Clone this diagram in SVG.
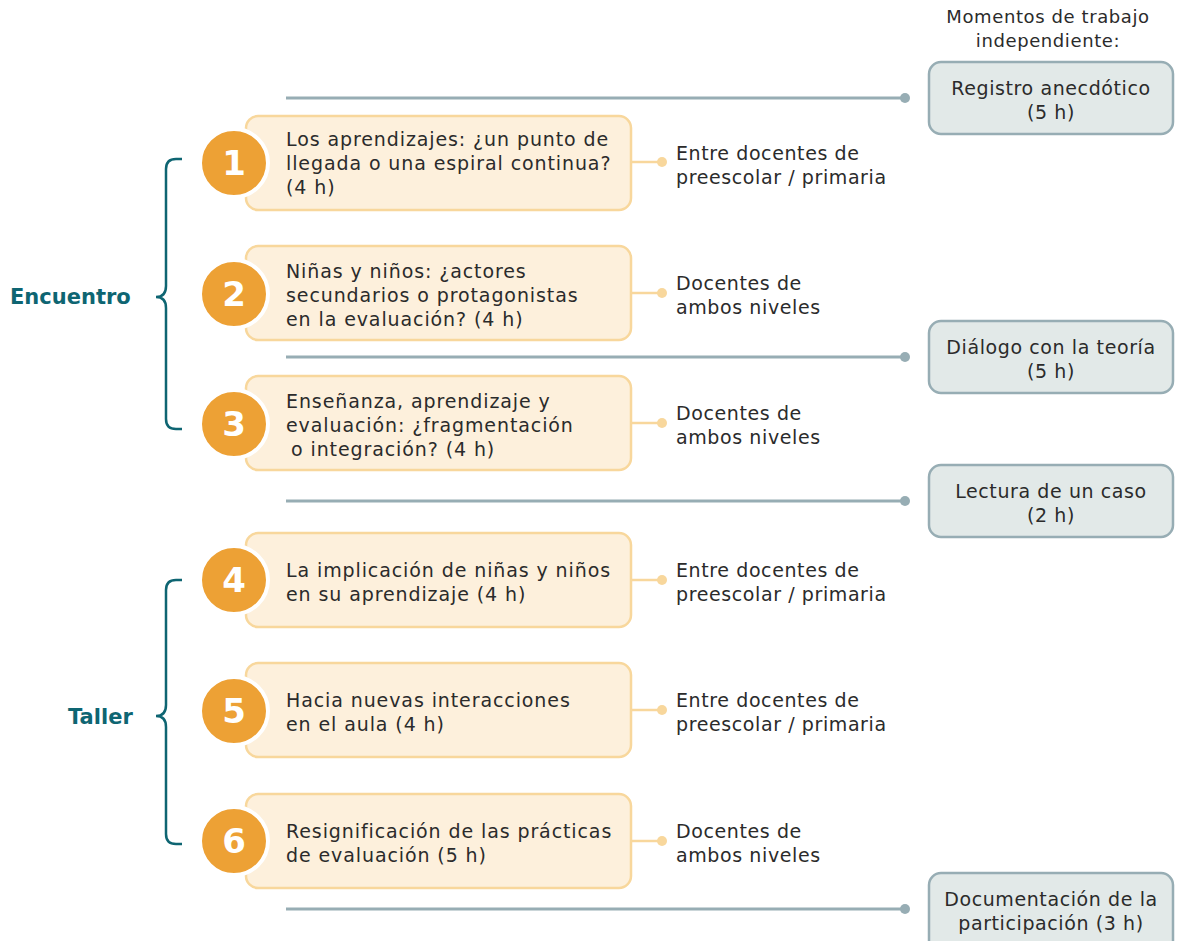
<svg xmlns="http://www.w3.org/2000/svg" width="1177" height="941" viewBox="0 0 1177 941">
  <style>
    text { font-family: "DejaVu Sans", "Noto Sans", "Liberation Sans", sans-serif; fill: #2b2b2b; font-size: 19px; letter-spacing: 0.6px; }
    .lbl { letter-spacing: 0.9px; }
    .session { fill: #fdf0dc; stroke: #f8d79c; stroke-width: 2.5; }
    .badge { fill: #eda135; stroke: #ffffff; stroke-width: 4; }
    .num { fill: #ffffff; font-size: 34px; font-weight: 700; text-anchor: middle; letter-spacing: 0; }
    .indep { fill: #e2e9e8; stroke: #97adb4; stroke-width: 2.5; }
    .mid { text-anchor: middle; }
    .hdr { font-size: 18px; }
    .gline { stroke: #97adb4; stroke-width: 3; fill: none; }
    .gdot { fill: #97adb4; }
    .oline { stroke: #f8d79c; stroke-width: 2.5; fill: none; }
    .odot { fill: #f8d79c; }
    .brace { stroke: #0e6572; stroke-width: 2.5; fill: none; }
    .group { fill: #0e6572; font-weight: 700; font-size: 21px; letter-spacing: 0; }
  </style>

  <!-- header -->
  <text class="mid hdr" x="1048" y="23">Momentos de trabajo</text>
  <text class="mid hdr" x="1048" y="47">independiente:</text>

  <!-- connectors -->
  <g id="connectors">
    <line class="gline" x1="286" y1="98" x2="905" y2="98"/>
    <circle class="gdot" cx="905" cy="98" r="5"/>
    <line class="gline" x1="286" y1="357" x2="905" y2="357"/>
    <circle class="gdot" cx="905" cy="357" r="5"/>
    <line class="gline" x1="286" y1="501" x2="905" y2="501"/>
    <circle class="gdot" cx="905" cy="501" r="5"/>
    <line class="gline" x1="286" y1="909" x2="905" y2="909"/>
    <circle class="gdot" cx="905" cy="909" r="5"/>

    <line class="oline" x1="631" y1="162" x2="662" y2="162"/>
    <circle class="odot" cx="662" cy="162" r="5"/>
    <line class="oline" x1="631" y1="293" x2="662" y2="293"/>
    <circle class="odot" cx="662" cy="293" r="5"/>
    <line class="oline" x1="631" y1="423" x2="662" y2="423"/>
    <circle class="odot" cx="662" cy="423" r="5"/>
    <line class="oline" x1="631" y1="580" x2="662" y2="580"/>
    <circle class="odot" cx="662" cy="580" r="5"/>
    <line class="oline" x1="631" y1="710" x2="662" y2="710"/>
    <circle class="odot" cx="662" cy="710" r="5"/>
    <line class="oline" x1="631" y1="841" x2="662" y2="841"/>
    <circle class="odot" cx="662" cy="841" r="5"/>
  </g>

  <!-- group braces -->
  <g id="encuentro">
    <path class="brace" d="M182 159 H176 Q166 159 166 169 V286 Q166 297 156 297 Q166 297 166 308 V419 Q166 429 176 429 H182"/>
    <text class="group" x="10" y="304">Encuentro</text>
  </g>
  <g id="taller">
    <path class="brace" d="M182 580 H176 Q166 580 166 590 V705 Q166 716 156 716 Q166 716 166 727 V834 Q166 844 176 844 H182"/>
    <text class="group" x="68" y="724">Taller</text>
  </g>

  <!-- sessions -->
  <g id="s1">
    <rect class="session" x="246" y="116" width="385" height="94" rx="12"/>
    <circle class="badge" cx="234" cy="163" r="34"/>
    <text class="num" x="234" y="175">1</text>
    <text class="lbl" x="286" y="146">Los aprendizajes: ¿un punto de</text>
    <text class="lbl" x="286" y="170">llegada o una espiral continua?</text>
    <text class="lbl" x="286" y="194">(4 h)</text>
    <text x="676" y="160">Entre docentes de</text>
    <text x="676" y="184">preescolar / primaria</text>
  </g>
  <g id="s2">
    <rect class="session" x="246" y="246" width="385" height="94" rx="12"/>
    <circle class="badge" cx="234" cy="294" r="34"/>
    <text class="num" x="234" y="306">2</text>
    <text class="lbl" x="286" y="278">Niñas y niños: ¿actores</text>
    <text class="lbl" x="286" y="302">secundarios o protagonistas</text>
    <text class="lbl" x="286" y="326">en la evaluación? (4 h)</text>
    <text x="676" y="290">Docentes de</text>
    <text x="676" y="314">ambos niveles</text>
  </g>
  <g id="s3">
    <rect class="session" x="246" y="376" width="385" height="94" rx="12"/>
    <circle class="badge" cx="234" cy="424" r="34"/>
    <text class="num" x="234" y="436">3</text>
    <text class="lbl" x="286" y="408">Enseñanza, aprendizaje y</text>
    <text class="lbl" x="286" y="432">evaluación: ¿fragmentación</text>
    <text class="lbl" x="291" y="456">o integración? (4 h)</text>
    <text x="676" y="420">Docentes de</text>
    <text x="676" y="444">ambos niveles</text>
  </g>
  <g id="s4">
    <rect class="session" x="246" y="533" width="385" height="94" rx="12"/>
    <circle class="badge" cx="234" cy="580" r="34"/>
    <text class="num" x="234" y="592">4</text>
    <text class="lbl" x="286" y="577">La implicación de niñas y niños</text>
    <text class="lbl" x="286" y="601">en su aprendizaje (4 h)</text>
    <text x="676" y="577">Entre docentes de</text>
    <text x="676" y="601">preescolar / primaria</text>
  </g>
  <g id="s5">
    <rect class="session" x="246" y="663" width="385" height="94" rx="12"/>
    <circle class="badge" cx="234" cy="711" r="34"/>
    <text class="num" x="234" y="723">5</text>
    <text class="lbl" x="286" y="707">Hacia nuevas interacciones</text>
    <text class="lbl" x="286" y="731">en el aula (4 h)</text>
    <text x="676" y="707">Entre docentes de</text>
    <text x="676" y="731">preescolar / primaria</text>
  </g>
  <g id="s6">
    <rect class="session" x="246" y="794" width="385" height="94" rx="12"/>
    <circle class="badge" cx="234" cy="841" r="34"/>
    <text class="num" x="234" y="853">6</text>
    <text class="lbl" x="286" y="838">Resignificación de las prácticas</text>
    <text class="lbl" x="286" y="862">de evaluación (5 h)</text>
    <text x="676" y="838">Docentes de</text>
    <text x="676" y="862">ambos niveles</text>
  </g>

  <!-- independent work -->
  <g id="i1">
    <rect class="indep" x="929" y="62" width="244" height="72" rx="12"/>
    <text class="mid" x="1051" y="95">Registro anecdótico</text>
    <text class="mid" x="1051" y="119">(5 h)</text>
  </g>
  <g id="i2">
    <rect class="indep" x="929" y="321" width="244" height="72" rx="12"/>
    <text class="mid" x="1051" y="354">Diálogo con la teoría</text>
    <text class="mid" x="1051" y="378">(5 h)</text>
  </g>
  <g id="i3">
    <rect class="indep" x="929" y="465" width="244" height="72" rx="12"/>
    <text class="mid" x="1051" y="498">Lectura de un caso</text>
    <text class="mid" x="1051" y="522">(2 h)</text>
  </g>
  <g id="i4">
    <rect class="indep" x="929" y="873" width="244" height="80" rx="12"/>
    <text class="mid" x="1051" y="906">Documentación de la</text>
    <text class="mid" x="1051" y="930">participación (3 h)</text>
  </g>
</svg>
